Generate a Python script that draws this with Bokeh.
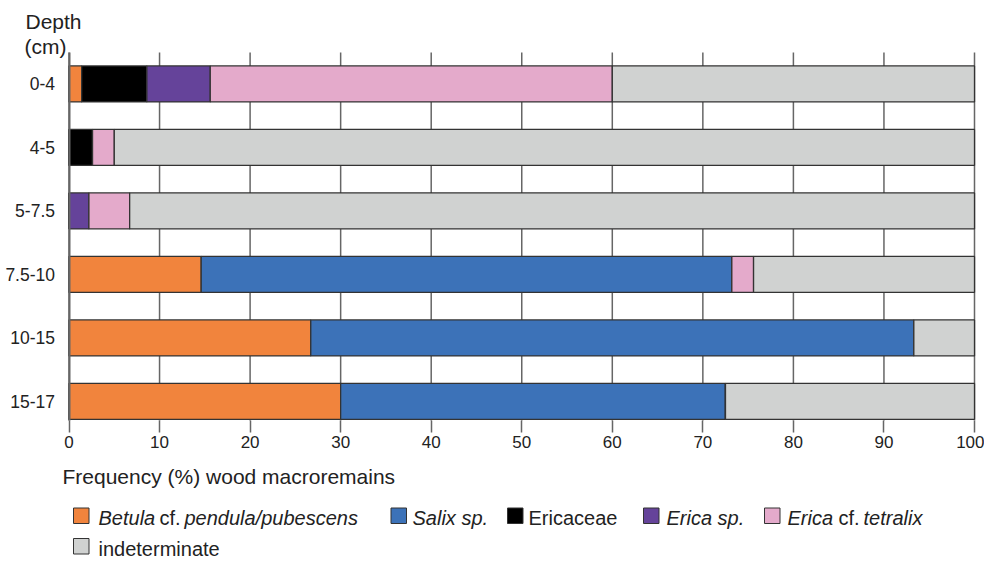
from bokeh.plotting import figure
from bokeh.models import ColumnDataSource, Range1d, FixedTicker
from bokeh.embed import file_html
from bokeh.resources import INLINE
from bokeh.core.properties import value

FONT = "Liberation Sans"
TXT = "#222222"

depths = ["0-4", "4-5", "5-7.5", "7.5-10", "10-15", "15-17"]
ypos = [5, 4, 3, 2, 1, 0]
betula = [1.4, 0.0, 0.0, 14.6, 26.7, 30.0]
salix = [0.0, 0.0, 0.0, 58.6, 66.6, 42.5]
ericaceae = [7.2, 2.6, 0.0, 0.0, 0.0, 0.0]
erica_sp = [7.0, 0.0, 2.2, 0.0, 0.0, 0.0]
erica_tetralix = [44.4, 2.4, 4.5, 2.4, 0.0, 0.0]
indeterminate = [40.0, 95.0, 93.3, 24.4, 6.7, 27.5]

series = ["betula", "salix", "ericaceae", "erica_sp", "erica_tetralix", "indeterminate"]
colors = ["#F1843D", "#3C72B8", "#000000", "#65439A", "#E4AACB", "#D0D2D1"]
xticks = [0, 10, 20, 30, 40, 50, 60, 70, 80, 90, 100]

# value-axis and category-axis extents
X_MIN, X_MAX = 0, 100
Y_LOW, Y_HIGH = -0.30, 5.495

# canvas geometry (pixels inside the figure; the page has no margin)
W, H = 984, 560
FRAME_L, FRAME_R = 68.5, 974.0     # where 0 and 100 fall
FRAME_T, FRAME_B = 52.0, 420.0     # where Y_HIGH and Y_LOW fall
sx = (FRAME_R - FRAME_L) / (X_MAX - X_MIN)
sy = (FRAME_B - FRAME_T) / (Y_HIGH - Y_LOW)
x_range = Range1d(X_MIN - FRAME_L / sx, X_MAX + (W - FRAME_R) / sx)
y_range = Range1d(Y_LOW - (H - FRAME_B) / sy, Y_HIGH + FRAME_T / sy)
TEXT_SHIFT = -5.0  # baseline correction for text glyphs


def dx(px):  # canvas pixel -> data x
    return X_MIN + (px - FRAME_L) / sx


def dy(py):  # canvas pixel -> data y
    return Y_LOW + (FRAME_B - py) / sy


def ty(py):  # baseline pixel -> data y for text glyphs
    return dy(py + TEXT_SHIFT)


source = ColumnDataSource(dict(
    y=ypos, betula=betula, salix=salix, ericaceae=ericaceae, erica_sp=erica_sp,
    erica_tetralix=erica_tetralix, indeterminate=indeterminate))

p = figure(width=W, height=H, output_backend="svg", toolbar_location=None,
           x_range=x_range, y_range=y_range, min_border=0)
p.outline_line_color = None
p.grid.grid_line_color = None

# vertical grid lines spanning the category extent
p.segment(x0=xticks, x1=xticks, y0=[Y_LOW] * len(xticks), y1=[Y_HIGH] * len(xticks),
          line_color="#666666", line_width=1.5)

p.hbar_stack(series, y="y", height=0.567, color=colors, source=source,
             line_color="#333333", line_width=1.3)

# x axis
xa = p.xaxis[0]
xa.fixed_location = Y_LOW
xa.bounds = (X_MIN, X_MAX)
xa.ticker = FixedTicker(ticks=xticks)
xa.axis_line_color = None
xa.major_tick_out = 12
xa.major_tick_in = 0
xa.major_tick_line_color = "#666666"
xa.major_tick_line_width = 1.5
xa.minor_tick_line_color = None
xa.major_label_standoff = 3
xa.major_label_text_font = FONT
xa.major_label_text_font_size = "17px"
xa.major_label_text_color = TXT

# y axis
ya = p.yaxis[0]
ya.fixed_location = X_MIN
ya.bounds = (Y_LOW, Y_HIGH)
ya.ticker = FixedTicker(ticks=ypos)
ya.major_label_overrides = {yv: d for yv, d in zip(ypos, depths)}
ya.axis_line_color = "#666666"
ya.axis_line_width = 2
ya.major_tick_line_color = None
ya.minor_tick_line_color = None
ya.major_label_standoff = 8
ya.major_label_text_font = FONT
ya.major_label_text_font_size = "17.5px"
ya.major_label_text_color = TXT

# titles
p.text(x=[dx(25), dx(24)], y=[ty(26), ty(51)], text=["Depth", "(cm)"],
       text_font=value(FONT), text_font_size="21px", text_color=TXT, text_baseline="alphabetic")
p.text(x=[dx(62)], y=[ty(481)], text=["Frequency (%) wood macroremains"],
       text_font=value(FONT), text_font_size="21px", text_color=TXT, text_baseline="alphabetic")

# legend
sq_left = [73, 390.5, 507, 643, 764, 73]
sq_top = [507.5, 507.5, 507.5, 507.5, 507.5, 538]
SQ = 15.5
p.quad(left=[dx(v) for v in sq_left], right=[dx(v + SQ) for v in sq_left],
       top=[dy(v) for v in sq_top], bottom=[dy(v + SQ) for v in sq_top],
       fill_color=colors, line_color="#333333", line_width=1)

ital_px = [98, 184, 412, 666, 787, 863]
ital_t = ["Betula", "pendula/pubescens", "Salix sp.", "Erica sp.", "Erica", "tetralix"]
p.text(x=[dx(v) for v in ital_px], y=[ty(522.5)] * len(ital_px), text=ital_t,
       text_font=value(FONT), text_font_size="20px", text_font_style="italic",
       text_color=TXT, text_baseline="alphabetic")
norm_px = [159, 528, 838, 98]
norm_py = [522.5, 522.5, 522.5, 553]
norm_t = ["cf.", "Ericaceae", "cf.", "indeterminate"]
p.text(x=[dx(v) for v in norm_px], y=[ty(v) for v in norm_py], text=norm_t,
       text_font=value(FONT), text_font_size="20px", text_color=TXT, text_baseline="alphabetic")

open("out.html", "w").write(file_html(p, INLINE))
